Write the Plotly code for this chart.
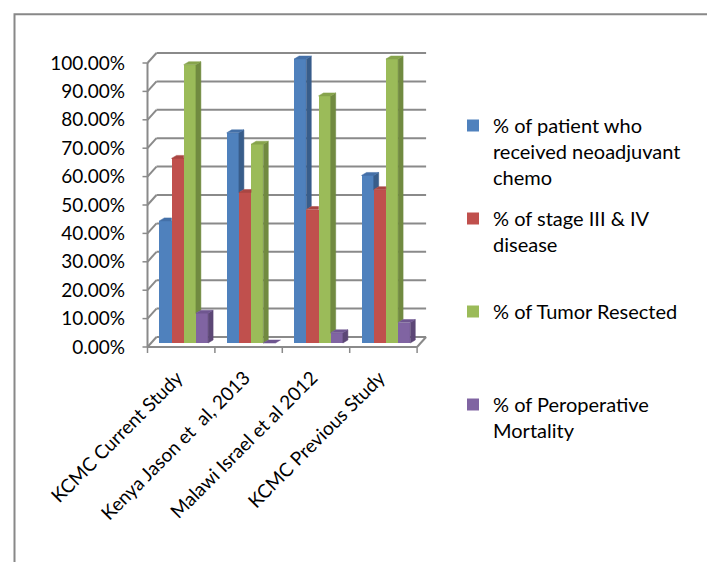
import plotly.graph_objects as go

# ---- data -------------------------------------------------------------
studies = [
    "KCMC Current Study",
    "Kenya Jason et\u00a0 al, 2013",
    "Malawi Israel et al 2012",
    "KCMC Previous Study",
]
series_names = [
    "% of patient who<br>received neoadjuvant<br>chemo",
    "% of stage III & IV<br>disease",
    "% of Tumor Resected",
    "% of Peroperative<br>Mortality",
]
neoadjuvant = [0.43, 0.74, 1.00, 0.59]
stage_3_4 = [0.65, 0.53, 0.47, 0.54]
resected = [0.98, 0.70, 0.87, 1.00]
mortality = [0.105, 0.0, 0.036, 0.072]
series_values = [neoadjuvant, stage_3_4, resected, mortality]
y_ticks = [i / 10 for i in range(11)]

front_colors = ["#4F81BD", "#C0504D", "#9BBB59", "#8064A2"]
side_colors = ["#385D8A", "#8C3A38", "#718A40", "#5C4776"]
top_colors = ["#4470A8", "#A94643", "#87A44C", "#6F5690"]

# ---- geometry (pixels -> axis units) ----------------------------------
W, H = 707, 562
PLOT_L, PLOT_R, PLOT_T, PLOT_B = 136, 435, 40, 356
AXIS_X, AXIS_Y = 147.5, 347      # front corner of the floor
CAT_PX, VAL_PX = 67.4, 284       # pixels per category / per 100 %


def ux(px):
    return px / CAT_PX


def uy(px):
    return px / VAL_PX


X0 = -0.5
x_range = [X0 + (PLOT_L - AXIS_X) / CAT_PX, X0 + (PLOT_R - AXIS_X) / CAT_PX]
y_range = [(AXIS_Y - PLOT_B) / VAL_PX, (AXIS_Y - PLOT_T) / VAL_PX]
n_cat = len(studies)

WALL_DX, WALL_DY = ux(9), uy(10)     # depth of the back wall
BAR_W = ux(12.2)
BAR_SX, BAR_SY = ux(2.5), uy(4)      # bars stand a little behind the front edge
BAR_DX, BAR_DY = ux(5), uy(3)        # bar depth

GRID = "#8A8A8A"
shapes = []


def seg(xa, ya, xb, yb, width=2, color=GRID):
    shapes.append(dict(type="line", xref="x", yref="y", x0=xa, y0=ya, x1=xb, y1=yb,
                       line=dict(color=color, width=width), layer="below"))


# back wall gridlines with their diagonal run to the front axis
x_end = X0 + n_cat
for t in y_ticks:
    seg(X0, t, X0 + WALL_DX, t + WALL_DY)
    seg(X0 + WALL_DX, t + WALL_DY, x_end + WALL_DX, t + WALL_DY)
    seg(X0 - ux(5), t, X0, t, width=1.5)
# front axis, floor edge and category tick marks
seg(X0, 0, X0, 1.0)
seg(X0, 0, x_end, 0)
seg(x_end, 0, x_end + WALL_DX, WALL_DY)
for k in range(n_cat + 1):
    seg(X0 + k, 0, X0 + k, -uy(6), width=1.5)


def px_paper_x(px):
    return (px - PLOT_L) / (PLOT_R - PLOT_L)


def px_paper_y(px):
    return (PLOT_B - px) / (PLOT_B - PLOT_T)


# chart frame
shapes.append(dict(type="rect", xref="paper", yref="paper",
                   x0=px_paper_x(14.5), x1=px_paper_x(W + 20),
                   y0=px_paper_y(14.3), y1=px_paper_y(H + 20),
                   line=dict(color="#888888", width=2), layer="below"))

fig = go.Figure()

n_ser = len(series_values)
LEGEND_LINES = 3
for k, vals in enumerate(series_values):
    lefts = [i - n_ser / 2 * BAR_W + k * BAR_W + BAR_SX for i in range(n_cat)]
    pad = max(0, LEGEND_LINES - series_names[k].count("<br>") - 1)
    fig.add_trace(go.Bar(
        x=[xl + BAR_W / 2 for xl in lefts], y=vals, base=BAR_SY, width=BAR_W,
        marker=dict(color=front_colors[k], line=dict(width=0)),
        name=series_names[k] + "<br>\u00a0" * pad,
        legendgroup=f"s{k}", legendrank=k,
    ))

for k, vals in enumerate(series_values):
    side_x, side_y, top_x, top_y = [], [], [], []
    for i in range(n_cat):
        xl = i - n_ser / 2 * BAR_W + k * BAR_W + BAR_SX
        xr = xl + BAR_W
        top = BAR_SY + vals[i]
        nxt = BAR_SY + series_values[k + 1][i] if k + 1 < n_ser else None
        # side face, hidden where the next bar stands in front of it
        lo = BAR_SY if nxt is None else nxt
        if lo < top:
            side_x += [xr, xr + BAR_DX, xr + BAR_DX, xr, xr, None]
            side_y += [lo, lo + BAR_DY, top + BAR_DY, top, lo, None]
        # top face, cut at the right edge when the next bar is taller
        if nxt is not None and nxt > top:
            top_x += [xl, xr, xr, xl + BAR_DX, xl, None]
            top_y += [top, top, top + BAR_DY, top + BAR_DY, top, None]
        else:
            top_x += [xl, xr, xr + BAR_DX, xl + BAR_DX, xl, None]
            top_y += [top, top, top + BAR_DY, top + BAR_DY, top, None]
    fig.add_trace(go.Scatter(x=side_x, y=side_y, mode="lines", fill="toself",
                             fillcolor=side_colors[k], line=dict(width=0.5, color=side_colors[k]),
                             showlegend=False, hoverinfo="skip"))
    fig.add_trace(go.Scatter(x=top_x, y=top_y, mode="lines", fill="toself",
                             fillcolor=top_colors[k], line=dict(width=0.5, color=top_colors[k]),
                             showlegend=False, hoverinfo="skip"))

FONT = "Lato"
AXIS_FONT = dict(family=FONT, size=19, color="#000000")
fig.update_layout(
    width=W, height=H,
    margin=dict(l=PLOT_L, r=W - PLOT_R, t=PLOT_T, b=H - PLOT_B, pad=0),
    paper_bgcolor="white", plot_bgcolor="rgba(0,0,0,0)",
    barmode="overlay", bargap=0,
    font=AXIS_FONT,
    shapes=shapes,
    showlegend=True,
    legend=dict(
        x=px_paper_x(453), y=px_paper_y(106), xanchor="left", yanchor="top",
        font=dict(family=FONT, size=20, color="#000000"),
        valign="top", tracegroupgap=12, bgcolor="rgba(0,0,0,0)",
        traceorder="grouped", maxheight=520,
    ),
    xaxis=dict(range=x_range, showgrid=False, zeroline=False, showline=False,
               tickmode="array", tickvals=list(range(n_cat)), ticktext=studies,
               tickangle=-45, ticks="", ticklabelstandoff=6, ticklabelshift=-4,
               tickfont=AXIS_FONT),
    yaxis=dict(range=y_range, showgrid=False, zeroline=False, showline=False,
               tickmode="array", tickvals=y_ticks, tickformat=".2%", ticks="",
               ticklabelstandoff=10, tickfont=AXIS_FONT),
)

fig.write_html("out.html")
